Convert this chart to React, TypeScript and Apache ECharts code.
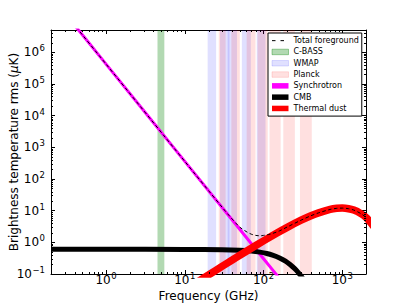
import { useEffect, useRef } from 'react';
import * as echarts from 'echarts';

const FONT = 'DejaVu Sans';

// Axis ranges (GHz, μK)
const xMin = 0.2;
const xMax = 2000;
const yMin = 0.1;
const yMax = 5e6;

// Experiment frequency bands (GHz)
const cbassBands: [number, number][] = [[4.5, 5.5]];
const wmapBands: [number, number][] = [[19.5, 25], [28, 37], [35, 46], [53, 69], [82, 106]];
const planckBands: [number, number][] = [[27, 33], [39, 50], [61, 79], [84, 113], [119, 165], [178, 250], [290, 410]];

// Synchrotron (GHz, μK)
const syncFreq = [0.3, 1, 10, 100, 200];
const syncTemp = [1.69e7, 4.2e5, 357, 0.304, 0.036];

// CMB (GHz, μK)
const cmbFreq = [0.2, 1, 10, 30, 50, 70, 90, 110, 130, 160, 190, 215, 245, 275, 300, 330];
const cmbTemp = [0.6, 0.6, 0.598, 0.586, 0.563, 0.53, 0.489, 0.445, 0.395, 0.321, 0.254, 0.203, 0.153, 0.113, 0.086, 0.061];

// Thermal dust (GHz, μK)
const dustFreq = [15, 20, 30, 40, 50, 70, 100, 150, 200, 300, 400, 500, 700, 850, 1000, 1200, 1400, 1700, 2000, 2500];
const dustTemp = [0.059, 0.093, 0.177, 0.276, 0.39, 0.65, 1.11, 2.0, 2.97, 4.98, 6.9, 8.5, 10.9, 11.8, 12.0, 11.5, 10.4, 8.2, 6.1, 3.2];

// Total foreground (GHz, μK)
const totFreq = [0.3, 1, 10, 30, 40, 50, 60, 70, 80, 90, 100, 115, 130, 160, 200, 300, 400, 500, 700, 850, 1000, 1200, 1400, 1700, 2000, 2500];
const totTemp = [1.69e7, 4.2e5, 357, 12.5, 5.4, 3.0, 2.2, 1.8, 1.65, 1.6, 1.65, 1.75, 1.9, 2.3, 3.05, 5.0, 6.9, 8.5, 10.9, 11.8, 12.0, 11.5, 10.4, 8.2, 6.1, 3.2];

// Minor tick mantissas for log axes
const minorMantissas = [2, 3, 4, 5, 6, 7, 8, 9];
const xDecades = [-1, 0, 1, 2, 3];
const yDecades = [-1, 0, 1, 2, 3, 4, 5, 6];

const zip = (a: number[], b: number[]) => a.map((v, i) => [v, b[i]]);

const supLabel = (v: number) => {
  const e = Math.log10(v);
  const r = Math.round(e);
  if (Math.abs(e - r) > 1e-6) return '';
  const s = r < 0 ? '\u2212' + -r : String(r);
  return `{b|10}{s|${s}}`;
};

const labelRich = {
  b: { fontSize: 12, lineHeight: 12, fontFamily: FONT, color: '#000' },
  s: { fontSize: 8.5, lineHeight: 8.5, fontFamily: FONT, color: '#000', padding: [0, 0, 8, 0.5] },
};

export default function App() {
  const ref = useRef<HTMLDivElement>(null);
  useEffect(() => {
    if (!ref.current) return;
    const chart = echarts.init(ref.current, undefined, { renderer: 'svg' });

    const xMinor = xDecades
      .flatMap((d) => minorMantissas.map((m) => m * Math.pow(10, d)))
      .filter((v) => v > xMin * 1.0001 && v < xMax * 0.9999);
    const yMinor = yDecades
      .flatMap((d) => minorMantissas.map((m) => m * Math.pow(10, d)))
      .filter((v) => v > yMin * 1.0001 && v < yMax * 0.9999);

    const tickStyle = { stroke: '#000', lineWidth: 1 };

    const bandSeries = (name: string, bands: [number, number][], color: string) => ({
      type: 'line',
      name,
      data: [],
      silent: true,
      z: 1,
      markArea: {
        silent: true,
        itemStyle: { color, borderWidth: 0 },
        data: bands.map(([a, b]) => [{ xAxis: a }, { xAxis: b }]),
      },
    });

    const lineSeries = (name: string, f: number[], t: number[], color: string, width: number, z: number, extra: any = {}) => ({
      type: 'line',
      name,
      data: zip(f, t),
      showSymbol: false,
      symbol: 'none',
      smooth: 0.3,
      color,
      z,
      silent: true,
      lineStyle: { color, width, ...extra },
    });

    const axisCommon = {
      axisLine: { show: true, lineStyle: { color: '#000', width: 1 } },
      axisTick: { show: true, inside: true, length: 4, lineStyle: { color: '#000', width: 1 } },
      splitLine: { show: false },
      minorTick: { show: false },
    };

    const option: any = {
      animation: false,
      backgroundColor: '#fff',
      grid: { left: 51, top: 30, right: 41, bottom: 31, outerBoundsMode: 'none', containLabel: false },
      xAxis: [
        {
          type: 'log',
          min: xMin,
          max: xMax,
          logBase: 10,
          name: 'Frequency (GHz)',
          nameLocation: 'middle',
          nameGap: 16,
          nameMoveOverlap: false,
          nameTextStyle: { fontFamily: FONT, fontSize: 12, color: '#000' },
          ...axisCommon,
          axisLabel: { show: true, margin: 0, formatter: supLabel, rich: labelRich },
        },
        {
          type: 'log',
          min: xMin,
          max: xMax,
          position: 'top',
          ...axisCommon,
          axisLabel: { show: false },
        },
      ],
      yAxis: [
        {
          type: 'log',
          min: yMin,
          max: yMax,
          logBase: 10,
          name: '{n|Brightness temperature rms (}{i|\u03bc}{n|K)}',
          nameLocation: 'middle',
          nameGap: 31,
          nameRotate: 90,
          nameMoveOverlap: false,
          nameTextStyle: {
            fontFamily: FONT,
            fontSize: 12,
            color: '#000',
            rich: {
              n: { fontFamily: FONT, fontSize: 12, color: '#000' },
              i: { fontFamily: FONT, fontSize: 12, color: '#000', fontStyle: 'italic' },
            },
          },
          ...axisCommon,
          axisLabel: { show: true, margin: 6, formatter: supLabel, rich: labelRich },
        },
        {
          type: 'log',
          min: yMin,
          max: yMax,
          position: 'right',
          ...axisCommon,
          axisLabel: { show: false },
        },
      ],
      legend: {
        orient: 'vertical',
        left: 268,
        top: 33,
        z: 20,
        selectedMode: false,
        backgroundColor: '#fff',
        borderColor: '#000',
        borderWidth: 1,
        borderRadius: 0,
        padding: [2, 3, 2, 3.5],
        itemWidth: 16.5,
        itemHeight: 5.5,
        itemGap: 0,
        textStyle: { fontFamily: FONT, fontSize: 8, color: '#000', lineHeight: 11.3 },
        data: [
          {
            name: 'Total foreground',
            itemStyle: { color: 'rgba(0,0,0,0)', borderColor: 'rgba(0,0,0,0)', borderWidth: 0, opacity: 0 },
            lineStyle: { type: [3.5, 5], width: 1, color: '#000' },
          },
          { name: 'C-BASS', icon: 'rect', itemStyle: { color: 'rgba(0,128,0,0.3)', borderColor: 'rgba(0,128,0,0.45)', borderWidth: 0.8 } },
          { name: 'WMAP', icon: 'rect', itemStyle: { color: 'rgba(0,0,255,0.12)', borderColor: 'rgba(0,0,255,0.16)', borderWidth: 0.8 } },
          { name: 'Planck', icon: 'rect', itemStyle: { color: 'rgba(255,0,0,0.12)', borderColor: 'rgba(255,0,0,0.16)', borderWidth: 0.8 } },
          { name: 'Synchrotron', icon: 'rect', itemStyle: { color: '#ff00ff', borderWidth: 0 } },
          { name: 'CMB', icon: 'rect', itemStyle: { color: '#000000', borderWidth: 0 } },
          { name: 'Thermal dust', icon: 'rect', itemStyle: { color: '#ff0000', borderWidth: 0 } },
        ],
      },
      series: [
        bandSeries('C-BASS', cbassBands, 'rgba(0,128,0,0.3)'),
        bandSeries('WMAP', wmapBands, 'rgba(0,0,255,0.12)'),
        bandSeries('Planck', planckBands, 'rgba(255,0,0,0.12)'),
        lineSeries('Synchrotron', syncFreq, syncTemp, '#ff00ff', 3, 3),
        lineSeries('CMB', cmbFreq, cmbTemp, '#000000', 5, 4),
        lineSeries('Thermal dust', dustFreq, dustTemp, '#ff0000', 7.5, 5),
        lineSeries('Total foreground', totFreq, totTemp, '#000000', 1, 6, { type: [3.5, 2.5] }),
        {
          type: 'custom',
          name: 'xminor',
          silent: true,
          z: 8,
          clip: false,
          data: xMinor.map((v) => [v, 1]),
          renderItem: (params: any, api: any) => {
            const cs = params.coordSys;
            const x = Math.round(api.coord([api.value(0), 1])[0]) + 0.5;
            const yb = cs.y + cs.height;
            const yt = cs.y;
            return {
              type: 'group',
              children: [
                { type: 'line', shape: { x1: x, y1: yb, x2: x, y2: yb - 2 }, style: tickStyle },
                { type: 'line', shape: { x1: x, y1: yt, x2: x, y2: yt + 2 }, style: tickStyle },
              ],
            };
          },
        },
        {
          type: 'custom',
          name: 'yminor',
          silent: true,
          z: 8,
          clip: false,
          data: yMinor.map((v) => [1, v]),
          renderItem: (params: any, api: any) => {
            const cs = params.coordSys;
            const y = Math.round(api.coord([1, api.value(1)])[1]) + 0.5;
            const xl = cs.x;
            const xr = cs.x + cs.width;
            return {
              type: 'group',
              children: [
                { type: 'line', shape: { x1: xl, y1: y, x2: xl + 2, y2: y }, style: tickStyle },
                { type: 'line', shape: { x1: xr, y1: y, x2: xr - 2, y2: y }, style: tickStyle },
              ],
            };
          },
        },
      ],
    };

    chart.setOption(option);
    return () => chart.dispose();
  }, []);

  return (
    <div
      ref={ref}
      style={{ position: 'absolute', left: 0, top: 0, width: 407, height: 305, background: '#fff' }}
    />
  );
}
